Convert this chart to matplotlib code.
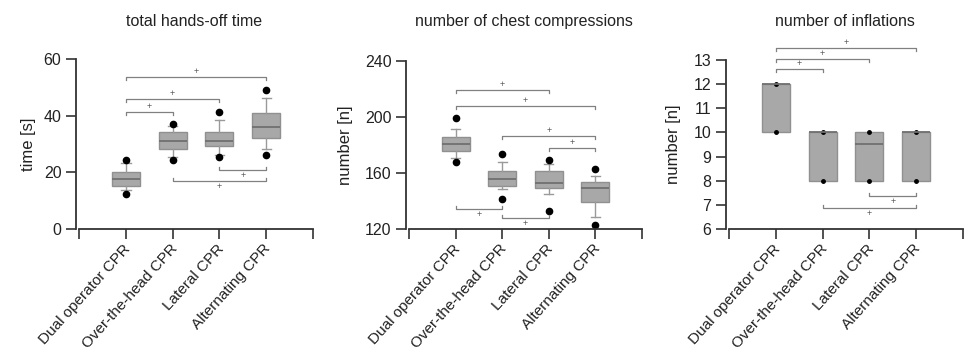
import matplotlib
matplotlib.use("Agg")
import matplotlib.pyplot as plt
import matplotlib.transforms as mtransforms

plt.rcParams['font.family'] = ['Liberation Sans', 'DejaVu Sans']

# Data
groups = ["Dual operator CPR", "Over-the-head CPR", "Lateral CPR", "Alternating CPR"]

# total hands-off time [s]
time_q1 = [15.2, 28.2, 29.2, 32.2]
time_med = [17.8, 31.2, 31.2, 36.1]
time_q3 = [20.1, 34.1, 34.1, 40.9]
time_wlo = [13.6, 25.3, 26.2, 28.2]
time_whi = [23.2, 36.2, 38.4, 46.1]
time_out = [[12.4, 24.2], [24.5, 37.2], [25.4, 41.2], [26.2, 48.9]]
time_sig = [(1, 2, 41.2, "up"), (1, 3, 46.0, "up"), (1, 4, 53.5, "up"),
            (3, 4, 20.7, "down"), (2, 4, 16.8, "down")]

# number of chest compressions
comp_q1 = [175.5, 150.5, 149.5, 139.0]
comp_med = [180.5, 155.5, 152.5, 149.5]
comp_q3 = [185.5, 161.5, 161.5, 153.5]
comp_wlo = [171.0, 148.5, 145.0, 128.5]
comp_whi = [191.5, 167.5, 166.5, 157.5]
comp_out = [[167.5, 199.5], [141.5, 173.5], [133.0, 169.0], [123.0, 163.0]]
comp_sig = [(1, 3, 219.3, "up"), (1, 4, 207.9, "up"), (2, 4, 186.5, "up"),
            (3, 4, 178.0, "up"), (1, 2, 134.3, "down"), (2, 3, 127.6, "down")]

# number of inflations
infl_q1 = [10, 8, 8, 8]
infl_med = [12, 10, 9.5, 10]
infl_q3 = [12, 10, 10, 10]
infl_out = [[10, 12], [8, 10], [8, 10], [8, 10]]
infl_sig = [(1, 2, 12.61, "up"), (1, 3, 13.04, "up"), (1, 4, 13.5, "up"),
            (3, 4, 7.38, "down"), (2, 4, 6.87, "down")]

W, H = 971, 354
fig = plt.figure(figsize=(W / 100, H / 100), dpi=100)

AX_TOP, AX_BOT = 40, 229
FG = "#222222"


def make_axes(left, right, lo, hi, hi_px, yticks, title, ylabel, label_px):
    ax = fig.add_axes([left / W, 1 - AX_BOT / H, (right - left) / W, (AX_BOT - AX_TOP) / H])
    scale = (AX_BOT - hi_px) / (hi - lo)
    ax.set_ylim(lo, lo + (AX_BOT - AX_TOP) / scale)
    ax.set_xlim(-0.065, 5)
    for s in ["top", "right"]:
        ax.spines[s].set_visible(False)
    for s in ["left", "bottom"]:
        ax.spines[s].set_linewidth(1.3)
        ax.spines[s].set_color("#333333")
    ax.spines["left"].set_bounds(lo, hi)
    ax.spines["bottom"].set_bounds(0, 5)
    ax.set_yticks(yticks)
    ax.tick_params(axis="both", direction="out", length=7, width=1.2, color="#333333",
                   labelcolor=FG, labelsize=11.5)
    ax.tick_params(axis="x", pad=2)
    ax.set_title(title, fontsize=11.5, color=FG, pad=10)
    ax.set_ylabel(ylabel, fontsize=12, color=FG)
    wpx = right - left
    ax.yaxis.set_label_coords((label_px + 8 - left) / wpx, (AX_BOT - (hi_px + AX_BOT) / 2) / (AX_BOT - AX_TOP))
    return ax, scale


def set_group_ticks(ax):
    ax.set_xticks(range(6))
    ax.set_xticklabels([""] + groups + [""], rotation=48, ha="right", va="top",
                       rotation_mode="anchor", fontsize=11)
    off = mtransforms.ScaledTranslation(-3 / 100, 0, fig.dpi_scale_trans)
    for lab in ax.get_xticklabels():
        lab.set_transform(lab.get_transform() + off)
    ax.set_xlim(-0.065, 5)


def draw_boxes(ax, q1, med, q3, wlo, whi, out, msize, caps=True):
    stats = []
    for i in range(len(q1)):
        stats.append(dict(med=med[i], q1=q1[i], q3=q3[i], whislo=wlo[i], whishi=whi[i],
                          fliers=out[i]))
    ax.bxp(stats, positions=[1, 2, 3, 4], widths=0.6, patch_artist=True, showcaps=caps,
           capwidths=0.2, manage_ticks=False,
           boxprops=dict(facecolor="#a8a8a8", edgecolor="#909090", linewidth=1.0),
           medianprops=dict(color="#707070", linewidth=1.3),
           whiskerprops=dict(color="#9a9a9a", linewidth=1.0),
           capprops=dict(color="#9a9a9a", linewidth=1.0),
           flierprops=dict(marker="o", markerfacecolor="black", markeredgecolor="black",
                           markersize=msize))
    set_group_ticks(ax)


def draw_sig(ax, scale, sig):
    d = 3 / scale
    for a, b, y, side in sig:
        if side == "up":
            ax.plot([a, a, b, b], [y - d, y, y, y - d], color="#808080", lw=0.9, clip_on=False)
            ax.annotate("+", (0.5 * (a + b), y), xytext=(0, 4), textcoords="offset points",
                        ha="center", va="center", fontsize=6.5, color="#555555",
                        annotation_clip=False)
        else:
            ax.plot([a, a, b, b], [y + d, y, y, y + d], color="#808080", lw=0.9, clip_on=False)
            ax.annotate("+", (0.5 * (a + b), y), xytext=(0, -4), textcoords="offset points",
                        ha="center", va="center", fontsize=6.5, color="#555555",
                        annotation_clip=False)


ax1, s1 = make_axes(76, 313, 0, 60, 59, [0, 20, 40, 60], "total hands-off time", "time [s]", 28)
draw_boxes(ax1, time_q1, time_med, time_q3, time_wlo, time_whi, time_out, 4.5)
draw_sig(ax1, s1, time_sig)

ax2, s2 = make_axes(406, 642, 120, 240, 61, [120, 160, 200, 240],
                    "number of chest compressions", "number [n]", 345)
draw_boxes(ax2, comp_q1, comp_med, comp_q3, comp_wlo, comp_whi, comp_out, 4.5)
draw_sig(ax2, s2, comp_sig)

ax3, s3 = make_axes(726, 963, 6, 13, 60, list(range(6, 14)),
                    "number of inflations", "number [n]", 673)
draw_boxes(ax3, infl_q1, infl_med, infl_q3, infl_q1, infl_q3, infl_out, 2.5, caps=False)
draw_sig(ax3, s3, infl_sig)

fig.savefig("out.png", dpi=100)
